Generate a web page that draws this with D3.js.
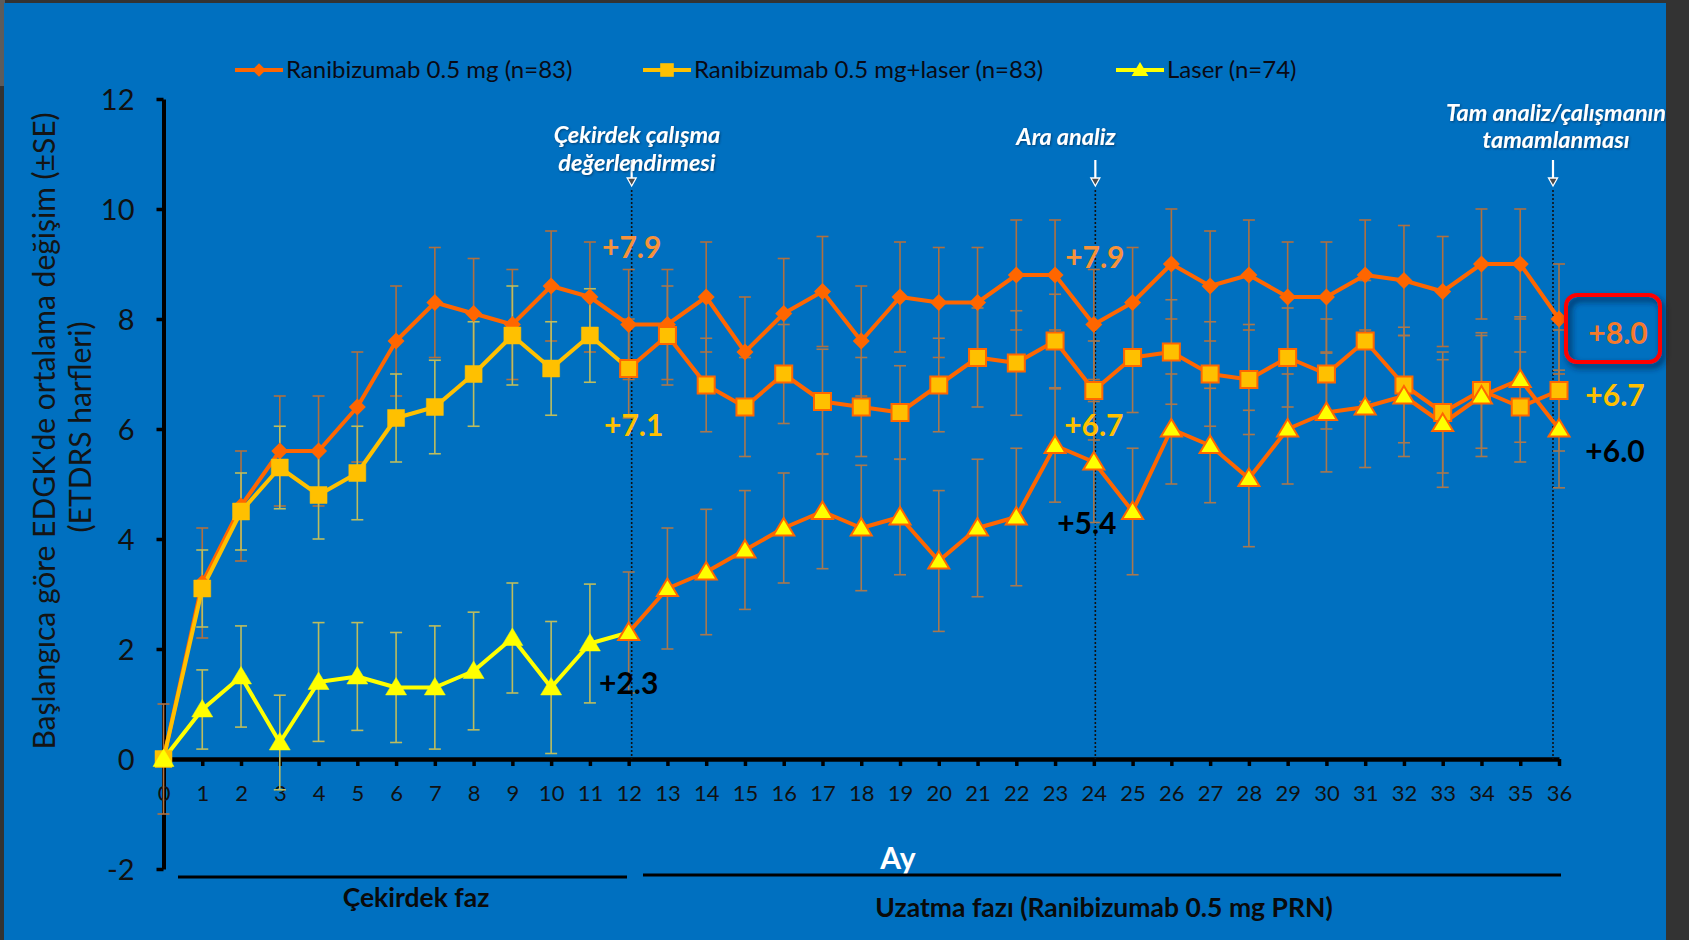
<!DOCTYPE html>
<html lang="tr">
<head>
<meta charset="utf-8">
<script src="https://cdn.jsdelivr.net/npm/d3@7/dist/d3.min.js"></script>
<style>
  html, body { margin: 0; padding: 0; background: #3c3c3c; }
  svg { display: block; }
  text { font-family: Lato, "Open Sans", sans-serif; }
</style>
</head>
<body>
<svg id="chart" width="1689" height="940"></svg>
<script>
// Months on the x axis
const months = [0,1,2,3,4,5,6,7,8,9,10,11,12,13,14,15,16,17,18,19,20,21,22,23,24,25,26,27,28,29,30,31,32,33,34,35,36];

// Mean BCVA change from baseline (ETDRS letters) and its standard error
const ranibizumab   = [0,3.2,4.6,5.6,5.6,6.4,7.6,8.3,8.1,7.9,8.6,8.4,7.9,7.9,8.4,7.4,8.1,8.5,7.6,8.4,8.3,8.3,8.8,8.8,7.9,8.3,9.0,8.6,8.8,8.4,8.4,8.8,8.7,8.5,9.0,9.0,8.0];
const ranibizumabSE = [1.0,1.0,1.0,1.0,1.0,1.0,1.0,1.0,1.0,1.0,1.0,1.0,1.0,1.0,1.0,1.0,1.0,1.0,1.0,1.0,1.0,1.0,1.0,1.0,1.0,1.0,1.0,1.0,1.0,1.0,1.0,1.0,1.0,1.0,1.0,1.0,1.0];
const combo         = [0,3.1,4.5,5.3,4.8,5.2,6.2,6.4,7.0,7.7,7.1,7.7,7.1,7.7,6.8,6.4,7.0,6.5,6.4,6.3,6.8,7.3,7.2,7.6,6.7,7.3,7.4,7.0,6.9,7.3,7.0,7.6,6.8,6.3,6.7,6.4,6.7];
const comboSE       = [0,0.7,0.7,0.75,0.8,0.85,0.8,0.85,0.95,0.9,0.85,0.85,0.9,0.9,0.85,0.9,0.9,0.95,0.9,0.85,0.85,0.9,0.95,0.85,0.9,1.0,0.95,0.95,1.0,0.9,1.0,1.1,1.05,1.1,1.05,1.0,1.1];
const laser         = [0,0.9,1.5,0.3,1.4,1.5,1.3,1.3,1.6,2.2,1.3,2.1,2.3,3.1,3.4,3.8,4.2,4.5,4.2,4.4,3.6,4.2,4.4,5.7,5.4,4.5,6.0,5.7,5.1,6.0,6.3,6.4,6.6,6.1,6.6,6.9,6.0];
const laserSE       = [0,0.72,0.92,0.86,1.08,0.98,1.0,1.12,1.07,1.0,1.2,1.08,1.1,1.1,1.14,1.08,1.0,1.04,1.14,1.05,1.28,1.25,1.25,1.03,1.1,1.15,1.0,1.04,1.24,1.0,1.08,1.1,1.1,1.16,1.1,1.14,1.07];

const seriesNames = ["Ranibizumab 0.5 mg (n=83)", "Ranibizumab 0.5 mg+laser (n=83)", "Laser (n=74)"];
const yTicks = [-2,0,2,4,6,8,10,12];

// Milestones marked with arrows
const milestoneMonths = [12, 24, 36];
const milestoneLabels = [["Çekirdek çalışma", "değerlendirmesi"], ["Ara analiz"], ["Tam analiz/çalışmanın", "tamamlanması"]];

const phaseLabels = ["Çekirdek faz", "Uzatma fazı (Ranibizumab 0.5 mg PRN)"];
const xTitle = "Ay";
const yTitle = ["Başlangıca göre EDGK'de ortalama değişim (±SE)", "(ETDRS harfleri)"];

// Colours
const ORANGE = "#FF6600", GOLD = "#FFC000", YELLOW = "#FFFF00";
const BAR_ORANGE = "#B0703F", BAR_OLIVE = "#BDBD5E", BAR_LATE = "#A8784F";
const EXT_START = 12; // extension phase begins here

const series = [
  { name: seriesNames[0], values: ranibizumab, se: ranibizumabSE, color: ORANGE, marker: "diamond", early: BAR_ORANGE },
  { name: seriesNames[1], values: combo,       se: comboSE,       color: GOLD,   marker: "square",  early: BAR_OLIVE },
  { name: seriesNames[2], values: laser,       se: laserSE,       color: YELLOW, marker: "triangle", early: BAR_OLIVE }
];

const svg = d3.select("#chart");

// frame and slide background
svg.append("rect").attr("x", 0).attr("y", 0).attr("width", 1689).attr("height", 940).attr("fill", "#333");
svg.append("rect").attr("x", 0).attr("y", 0).attr("width", 5).attr("height", 86).attr("fill", "#5c5c5c");
svg.append("rect").attr("x", 4).attr("y", 3).attr("width", 1662).attr("height", 937).attr("fill", "#0070C0");

const defs = svg.append("defs");
const shadow = defs.append("filter").attr("id", "boxShadow").attr("x", "-30%").attr("y", "-30%").attr("width", "160%").attr("height", "160%");
shadow.append("feDropShadow").attr("dx", 3).attr("dy", 4).attr("stdDeviation", 3).attr("flood-color", "#00223f").attr("flood-opacity", 0.85);
const tshadow = defs.append("filter").attr("id", "textShadow").attr("x", "-10%").attr("y", "-30%").attr("width", "120%").attr("height", "160%");
tshadow.append("feDropShadow").attr("dx", 1).attr("dy", 1).attr("stdDeviation", 0.8).attr("flood-color", "#002a50").attr("flood-opacity", 0.7);

const x = d3.scaleLinear().domain([0, 36]).range([163.5, 1559]);
const y = d3.scaleLinear().domain([-2, 12]).range([869, 99]);

// ---- axes ----
const yAxis = svg.append("g").attr("transform", `translate(${x(0)},0)`)
  .call(d3.axisLeft(y).tickValues(yTicks).tickSize(7).tickSizeOuter(0).tickFormat(d => String(d)));
yAxis.select(".domain").attr("stroke", "#000").attr("stroke-width", 4);
yAxis.selectAll(".tick line").attr("stroke", "#000").attr("stroke-width", 3.5);
yAxis.selectAll(".tick text").attr("x", -29).attr("dy", "0.35em")
  .attr("font-size", 29).attr("fill", "#111").attr("text-anchor", "end");

const xAxis = svg.append("g").attr("transform", `translate(0,${y(0)})`)
  .call(d3.axisBottom(x).tickValues(months).tickSize(7).tickSizeOuter(0).tickFormat(d => String(d)));
xAxis.select(".domain").attr("stroke", "#000").attr("stroke-width", 4.5);
xAxis.selectAll(".tick line").attr("stroke", "#000").attr("stroke-width", 3.5);
xAxis.selectAll(".tick text").attr("y", 34).attr("dy", "0.35em")
  .attr("font-size", 22).attr("fill", "#111");

// ---- milestone dotted lines and arrows ----
const milestoneShift = [3, 1.5, -6];
milestoneMonths.forEach((m, i) => {
  const mx = x(m) + milestoneShift[i];
  svg.append("line").attr("x1", mx).attr("x2", mx).attr("y1", 190).attr("y2", y(0))
    .attr("stroke", "#111").attr("stroke-width", 1.6).attr("stroke-dasharray", "2,2");
  svg.append("line").attr("x1", mx).attr("x2", mx).attr("y1", 160).attr("y2", 180)
    .attr("stroke", "#fff").attr("stroke-width", 2.2);
  svg.append("path").attr("d", `M${mx - 4.5},${178} L${mx + 4.5},${178} L${mx},${186} Z`)
    .attr("fill", "#4a4a4a").attr("stroke", "#fff").attr("stroke-width", 1.3);
});

// ---- error bars ----
const barLayer = svg.append("g");
series.forEach(s => {
  s.values.forEach((v, i) => {
    const e = s.se[i];
    if (!e) return;
    const col = (i < EXT_START && s.marker !== "diamond") ? s.early : (s.marker === "diamond" ? BAR_ORANGE : BAR_LATE);
    const cx = x(months[i]);
    const g = barLayer.append("g").attr("stroke", col).attr("stroke-width", 1.6).attr("fill", "none");
    g.append("line").attr("x1", cx).attr("x2", cx).attr("y1", y(v + e)).attr("y2", y(v - e));
    g.append("line").attr("x1", cx - 6).attr("x2", cx + 6).attr("y1", y(v + e)).attr("y2", y(v + e));
    g.append("line").attr("x1", cx - 6).attr("x2", cx + 6).attr("y1", y(v - e)).attr("y2", y(v - e));
  });
});

// ---- lines ----
const line = d3.line().x(d => x(d[0])).y(d => y(d[1]));
series.forEach(s => {
  const pts = months.map((m, i) => [m, s.values[i]]);
  if (s.marker === "diamond") {
    svg.append("path").attr("d", line(pts)).attr("fill", "none").attr("stroke", s.color)
      .attr("stroke-width", 4).attr("stroke-linejoin", "round");
  } else {
    svg.append("path").attr("d", line(pts.slice(0, EXT_START + 1))).attr("fill", "none")
      .attr("stroke", s.color).attr("stroke-width", 4).attr("stroke-linejoin", "round");
    svg.append("path").attr("d", line(pts.slice(EXT_START))).attr("fill", "none")
      .attr("stroke", ORANGE).attr("stroke-width", 4).attr("stroke-linejoin", "round");
  }
});

// ---- markers ----
const markerPath = {
  diamond: "M0,-8.5 L8.5,0 L0,8.5 L-8.5,0 Z",
  square: "M-8.5,-8.5 L8.5,-8.5 L8.5,8.5 L-8.5,8.5 Z",
  triangle: "M0,-10 L10.5,7.5 L-10.5,7.5 Z"
};
series.forEach(s => {
  svg.append("g").selectAll("path").data(months).join("path")
    .attr("transform", (m, i) => `translate(${x(m)},${y(s.values[i])})`)
    .attr("d", markerPath[s.marker])
    .attr("fill", s.color)
    .attr("stroke", (m, i) => (s.marker === "diamond" ? "none" : (i >= EXT_START ? ORANGE : s.color)))
    .attr("stroke-width", (m, i) => (i >= EXT_START ? 2 : 0.5))
    .attr("stroke-linejoin", "miter");
});

// ---- legend ----
const legendX = [235, 643, 1116];
const legendY = 70;
series.forEach((s, i) => {
  const lx = legendX[i];
  svg.append("line").attr("x1", lx).attr("x2", lx + 48).attr("y1", legendY).attr("y2", legendY)
    .attr("stroke", s.color).attr("stroke-width", 4);
  svg.append("path").attr("transform", `translate(${lx + 24},${legendY}) scale(0.8)`)
    .attr("d", markerPath[s.marker]).attr("fill", s.color);
  svg.append("text").attr("x", lx + 51).attr("y", legendY).attr("dy", "0.35em")
    .attr("font-size", 24).attr("fill", "#0a0a14").text(s.name);
});

// ---- axis titles ----
svg.append("text").attr("transform", "translate(44,431) rotate(-90)")
  .attr("text-anchor", "middle").attr("dy", "0.35em").attr("font-size", 30).attr("fill", "#141414").text(yTitle[0]);
svg.append("text").attr("transform", "translate(80,427) rotate(-90)")
  .attr("text-anchor", "middle").attr("dy", "0.35em").attr("font-size", 30).attr("fill", "#141414").text(yTitle[1]);

svg.append("text").attr("x", 898).attr("y", 858).attr("dy", "0.35em").attr("text-anchor", "middle")
  .attr("font-size", 30).attr("font-weight", 700).attr("fill", "#fff").text(xTitle);

// ---- phase brackets ----
svg.append("line").attr("x1", 178).attr("x2", 627).attr("y1", 877).attr("y2", 877).attr("stroke", "#000").attr("stroke-width", 3);
svg.append("line").attr("x1", 643).attr("x2", 1561).attr("y1", 875).attr("y2", 875).attr("stroke", "#000").attr("stroke-width", 3);
svg.append("text").attr("x", 416).attr("y", 898).attr("dy", "0.35em").attr("text-anchor", "middle")
  .attr("font-size", 26.5).attr("font-weight", 700).attr("fill", "#0a0a0a").text(phaseLabels[0]);
svg.append("text").attr("x", 1104).attr("y", 908).attr("dy", "0.35em").attr("text-anchor", "middle")
  .attr("font-size", 26.5).attr("font-weight", 700).attr("fill", "#0a0a0a").text(phaseLabels[1]);

// ---- milestone captions ----
const captionPos = [[637, 135, 163], [1066, 137], [1556, 113, 140]];
milestoneLabels.forEach((lines, i) => {
  lines.forEach((t, j) => {
    svg.append("text").attr("x", captionPos[i][0]).attr("y", captionPos[i][1 + j]).attr("dy", "0.35em")
      .attr("text-anchor", "middle").attr("font-size", 23.5).attr("font-weight", 700).attr("font-style", "italic")
      .attr("fill", "#fff").attr("filter", "url(#textShadow)").text(t);
  });
});

// ---- value call-outs ----
const fmt = v => "+" + v.toFixed(1);
const LBL_ORANGE = "#F7923A", LBL_GOLD = "#FFC000", LBL_BLACK = "#000";
const callouts = [
  { v: ranibizumab[12], cx: x(12) + 3,  cy: 247, c: LBL_ORANGE },
  { v: combo[12],       cx: x(12) + 5,  cy: 425, c: LBL_GOLD },
  { v: laser[12],       cx: x(12),      cy: 683, c: LBL_BLACK },
  { v: ranibizumab[24], cx: x(24) + 1,  cy: 257, c: LBL_ORANGE },
  { v: combo[24],       cx: x(24),      cy: 425, c: LBL_GOLD },
  { v: laser[24],       cx: x(24) - 7,  cy: 523, c: LBL_BLACK },
  { v: ranibizumab[36], cx: x(36) + 59, cy: 333, c: "#F57A2C" },
  { v: combo[36],       cx: x(36) + 56, cy: 395, c: LBL_GOLD },
  { v: laser[36],       cx: x(36) + 56, cy: 451, c: LBL_BLACK }
];

// highlight box around the final ranibizumab value
svg.append("rect").attr("x", 1566).attr("y", 295).attr("width", 94).attr("height", 67).attr("rx", 11)
  .attr("fill", "none").attr("stroke", "#FF0000").attr("stroke-width", 4).attr("filter", "url(#boxShadow)");

callouts.forEach(d => {
  svg.append("text").attr("x", d.cx).attr("y", d.cy).attr("dy", "0.35em").attr("text-anchor", "middle")
    .attr("font-size", 30).attr("font-weight", 700).attr("fill", d.c).text(fmt(d.v));
});
</script>
</body>
</html>
